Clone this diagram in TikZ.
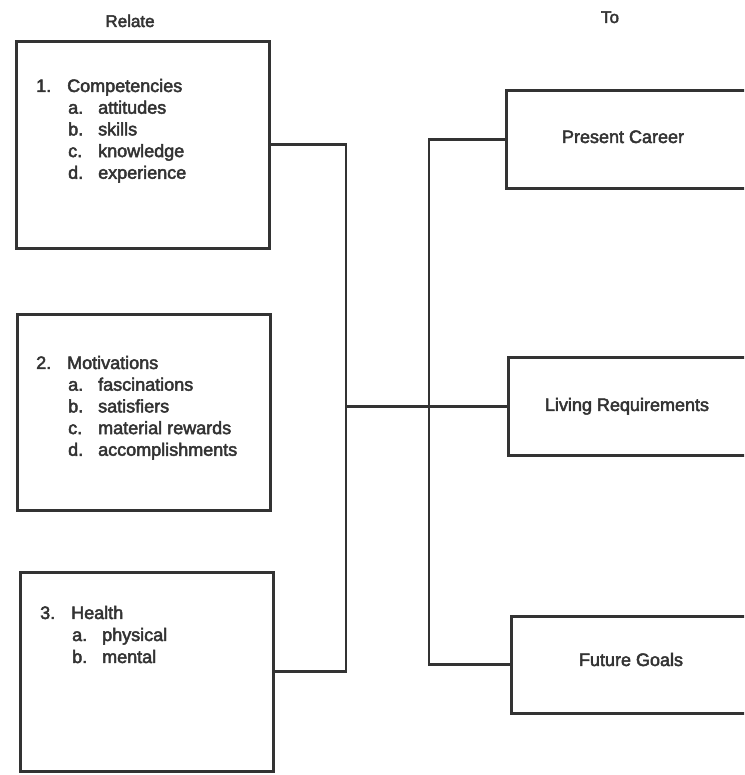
\documentclass[tikz,border=0pt]{standalone}
\usepackage{fontspec}
\setmainfont[FakeBold=2.6]{Liberation Sans}
\definecolor{ink}{HTML}{333333}
\newcommand{\headline}[2]{\hbox{\makebox[31pt][l]{#1}#2}}
\newcommand{\subline}[2]{\hbox{\hspace*{32pt}\makebox[30pt][l]{#1}#2}}
\begin{document}
\begin{tikzpicture}[x=1pt,y=1pt,
  lbox/.style={draw=ink, line width=2.8pt, rectangle, anchor=north west, inner sep=0pt, minimum width=253pt},
  rbox/.style={draw=ink, line width=2.8pt, rectangle, anchor=north west, inner sep=0pt, minimum width=260pt},
  listtext/.style={anchor=base west, inner sep=0pt, text=ink, font=\fontsize{18}{21.7}\selectfont},
  boxtext/.style={anchor=base, inner sep=0pt, text=ink, font=\fontsize{18}{21.7}\selectfont},
  head/.style={anchor=base, inner sep=0pt, text=ink, font=\fontsize{17}{20}\selectfont},
  conn/.style={draw=ink, line width=2.8pt}]
\useasboundingbox (0,0) rectangle (744,775);
\clip (0,0) rectangle (744,775);
\fill[white] (0,0) rectangle (744,775);

% headers
\node[head] (relate) at (130,748) {Relate};
\node[head] (to) at (610,752) {To};

% left boxes
\node[lbox, minimum height=207pt] (b1) at (15,735) {};
\node[lbox, minimum height=196pt] (b2) at (16,462) {};
\node[lbox, minimum height=199pt] (b3) at (19,204) {};

\node[listtext] (t1) at (36,683) {\vtop{\baselineskip=21.7pt
  \headline{1.}{Competencies}
  \subline{a.}{attitudes}
  \subline{b.}{skills}
  \subline{c.}{knowledge}
  \subline{d.}{experience}}};
\node[listtext] (t2) at (36,406) {\vtop{\baselineskip=21.7pt
  \headline{2.}{Motivations}
  \subline{a.}{fascinations}
  \subline{b.}{satisfiers}
  \subline{c.}{material rewards}
  \subline{d.}{accomplishments}}};
\node[listtext] (t3) at (40,156) {\vtop{\baselineskip=22pt
  \headline{3.}{Health}
  \subline{a.}{physical}
  \subline{b.}{mental}}};

% right boxes
\node[rbox, minimum height=98pt] (pc) at (505,686) {};
\node[rbox, minimum height=98pt] (lr) at (507,419) {};
\node[rbox, minimum height=97pt] (fg) at (510,160) {};

\node[boxtext] (pct) at (623,632) {Present Career};
\node[boxtext] (lrt) at (627,364) {Living Requirements};
\node[boxtext] (fgt) at (631,109) {Future Goals};

% connectors
\coordinate (jl) at (346,0 |- lr.west);
\coordinate (jr) at (429,0 |- lr.west);
\draw[conn] (b1.east) -| (jl) |- (b3.east);
\draw[conn] (jl) -- (lr.west);
\draw[conn] (pc.west) -| (jr) |- (fg.west);
\end{tikzpicture}
\end{document}
